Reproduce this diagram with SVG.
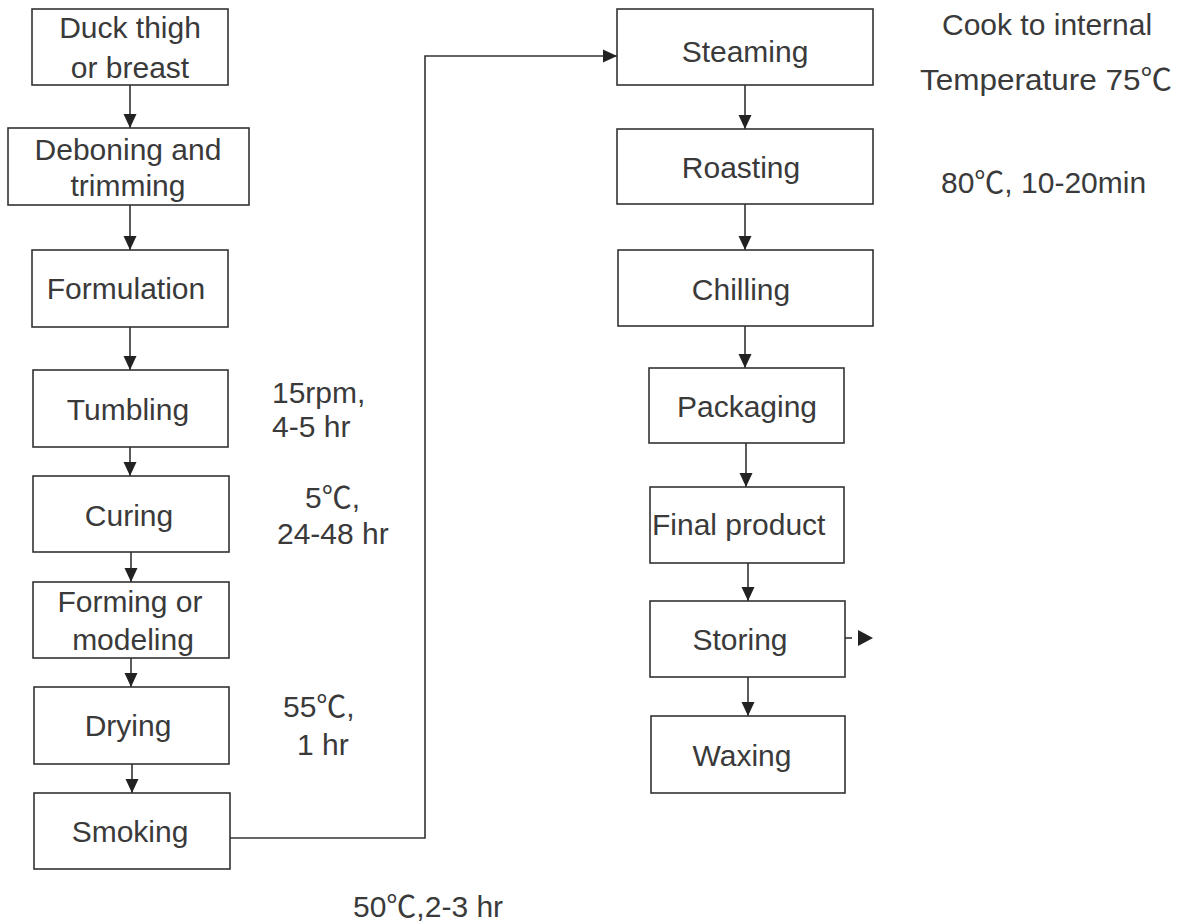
<svg xmlns="http://www.w3.org/2000/svg" width="1182" height="923" viewBox="0 0 1182 923">
<style>
.box{fill:#fff;stroke:#333;stroke-width:1.6}
.t{font-family:"Liberation Sans",Arial,"Noto Sans CJK SC",sans-serif;font-size:30px;fill:#3a3a3a}
.c{text-anchor:middle}
.ln{fill:none;stroke:#333;stroke-width:1.6}
</style>
<defs>
<marker id="ah" markerUnits="userSpaceOnUse" markerWidth="14" markerHeight="14" refX="14" refY="7" orient="auto">
<path d="M0,0.5 L14,7 L0,13.5 z" fill="#222"/>
</marker>
</defs>
<rect width="1182" height="923" fill="#fff"/>
<g id="connectors">
<line class="ln" x1="130" y1="85" x2="130" y2="128" marker-end="url(#ah)"/>
<line class="ln" x1="130" y1="205" x2="130" y2="250" marker-end="url(#ah)"/>
<line class="ln" x1="130" y1="327" x2="130" y2="370" marker-end="url(#ah)"/>
<line class="ln" x1="130" y1="447" x2="130" y2="476" marker-end="url(#ah)"/>
<line class="ln" x1="131" y1="552" x2="131" y2="582" marker-end="url(#ah)"/>
<line class="ln" x1="131" y1="658" x2="131" y2="687" marker-end="url(#ah)"/>
<line class="ln" x1="132" y1="764" x2="132" y2="793" marker-end="url(#ah)"/>
<path class="ln" d="M230,838 H425 V56 H617" marker-end="url(#ah)"/>
<line class="ln" x1="745" y1="85" x2="745" y2="129" marker-end="url(#ah)"/>
<line class="ln" x1="745" y1="204" x2="745" y2="250" marker-end="url(#ah)"/>
<line class="ln" x1="745" y1="326" x2="745" y2="368" marker-end="url(#ah)"/>
<line class="ln" x1="746" y1="443" x2="746" y2="487" marker-end="url(#ah)"/>
<line class="ln" x1="748" y1="563" x2="748" y2="601" marker-end="url(#ah)"/>
<line class="ln" x1="748" y1="677" x2="748" y2="716" marker-end="url(#ah)"/>
<line class="ln" x1="845" y1="638" x2="852" y2="638"/>
<path d="M858,630 L873,638 L858,646 z" fill="#222"/>
</g>
<g id="n-duck"><rect class="box" x="32" y="9" width="196" height="76"/><text class="t c" x="130" y="38">Duck thigh</text><text class="t c" x="130" y="78">or breast</text></g>
<g id="n-deboning"><rect class="box" x="8" y="128" width="241" height="77"/><text class="t c" x="128" y="160">Deboning and</text><text class="t c" x="128" y="196">trimming</text></g>
<g id="n-formulation"><rect class="box" x="32" y="250" width="196" height="77"/><text class="t c" x="126" y="299">Formulation</text></g>
<g id="n-tumbling"><rect class="box" x="33" y="370" width="195" height="77"/><text class="t c" x="128" y="420">Tumbling</text></g>
<g id="n-curing"><rect class="box" x="33" y="476" width="196" height="76"/><text class="t c" x="129" y="526">Curing</text></g>
<g id="n-forming"><rect class="box" x="33" y="582" width="196" height="76"/><text class="t c" x="130" y="612">Forming or</text><text class="t c" x="133" y="650">modeling</text></g>
<g id="n-drying"><rect class="box" x="34" y="687" width="195" height="77"/><text class="t c" x="128" y="736">Drying</text></g>
<g id="n-smoking"><rect class="box" x="34" y="793" width="196" height="76"/><text class="t c" x="130" y="842">Smoking</text></g>
<g id="n-steaming"><rect class="box" x="617" y="9" width="256" height="76"/><text class="t c" x="745" y="62">Steaming</text></g>
<g id="n-roasting"><rect class="box" x="617" y="129" width="256" height="75"/><text class="t c" x="741" y="178">Roasting</text></g>
<g id="n-chilling"><rect class="box" x="618" y="250" width="255" height="76"/><text class="t c" x="741" y="300">Chilling</text></g>
<g id="n-packaging"><rect class="box" x="649" y="368" width="195" height="75"/><text class="t c" x="747" y="417">Packaging</text></g>
<g id="n-final"><rect class="box" x="650" y="487" width="194" height="76"/><text class="t" x="652" y="535">Final product</text></g>
<g id="n-storing"><rect class="box" x="650" y="601" width="195" height="76"/><text class="t c" x="740" y="650">Storing</text></g>
<g id="n-waxing"><rect class="box" x="651" y="716" width="194" height="77"/><text class="t c" x="742" y="766">Waxing</text></g>
<g id="labels">
<text class="t" x="272" y="403">15rpm,</text>
<text class="t" x="272" y="437">4-5 hr</text>
<text class="t" x="305" y="508">5℃,</text>
<text class="t" x="277" y="544">24-48 hr</text>
<text class="t" x="283" y="717">55℃,</text>
<text class="t" x="297" y="755">1 hr</text>
<text class="t" x="353" y="917">50℃,2-3 hr</text>
<text class="t" x="942" y="35">Cook to internal</text>
<text class="t" x="920" y="90" textLength="252" lengthAdjust="spacingAndGlyphs">Temperature 75℃</text>
<text class="t" x="941" y="193">80℃, 10-20min</text>
</g>
</svg>
